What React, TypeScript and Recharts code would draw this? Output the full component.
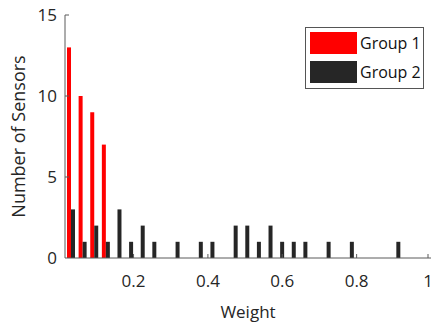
import React from "react";
import { BarChart, Bar, XAxis, YAxis, Legend } from "recharts";

// histogram bin centres (weight), only bins with at least one sensor
const binCenters = [
  0.03125, 0.0625, 0.09375, 0.125, 0.15625, 0.1875, 0.21875, 0.25, 0.3125,
  0.375, 0.40625, 0.46875, 0.5, 0.53125, 0.5625, 0.59375, 0.625, 0.65625,
  0.71875, 0.78125, 0.90625,
];
const group1 = [13, 10, 9, 7, 0, 0, 0, 0, 0, 0, 0, 0, 0, 0, 0, 0, 0, 0, 0, 0, 0];
const group2 = [3, 1, 2, 1, 3, 1, 2, 1, 1, 1, 1, 2, 2, 1, 2, 1, 1, 1, 1, 1, 1];

const xTicks = [0.2, 0.4, 0.6, 0.8, 1];
const yTicks = [0, 5, 10, 15];
const seriesNames = ["Group 1", "Group 2"];
const seriesColors = ["#ff0000", "#262626"];

const data = binCenters.map((w, i) => ({ weight: w, g1: group1[i], g2: group2[i] }));

const axisColor = "#5a5a5a";
const textColor = "#262626";
const font = "'Open Sans', 'Noto Sans', sans-serif";

const XTick = ({ x, y, payload }: any) => (
  <g>
    <line x1={x} x2={x} y1={y} y2={y - 4} stroke={axisColor} />
    <text x={x} y={y + 23} dy="0.355em" textAnchor="middle" fontSize={17} fontFamily={font} fill={textColor}>
      {payload.value}
    </text>
  </g>
);

const TopTick = ({ x, y }: any) => <line x1={x} x2={x} y1={y} y2={y + 4} stroke={axisColor} />;

const YTick = ({ x, y, payload }: any) => (
  <g>
    {payload.value !== 0 && <line x1={x} x2={x + 4} y1={y} y2={y} stroke={axisColor} />}
    <text x={x - 8} y={y} dy="0.355em" textAnchor="end" fontSize={17} fontFamily={font} fill={textColor}>
      {payload.value}
    </text>
  </g>
);

const YLabel = ({ viewBox }: any) => {
  const cy = viewBox.y + viewBox.height / 2;
  return (
    <text x={25} y={cy} transform={`rotate(-90, 25, ${cy})`} textAnchor="middle" fontSize={18} fontFamily={font} fill={textColor}>
      Number of Sensors
    </text>
  );
};

const LegendBox = () => (
  <div
    style={{
      width: 119,
      height: 62,
      boxSizing: "border-box",
      border: "1px solid #555",
      background: "#fff",
      fontFamily: font,
      fontSize: 16,
      color: "#111",
      position: "relative",
    }}
  >
    {seriesNames.map((name, i) => (
      <div key={name} style={{ position: "absolute", left: 4, top: 4 + i * 28.5, display: "flex", alignItems: "center", height: 22 }}>
        <div style={{ width: 47, height: 22, background: seriesColors[i] }} />
        <span style={{ marginLeft: 3, lineHeight: "22px" }}>{name}</span>
      </div>
    ))}
  </div>
);

export default function App() {
  return (
    <div style={{ position: "absolute", left: 0, top: 0, background: "#fff" }}>
      <BarChart
        width={432}
        height={326}
        data={data}
        margin={{ top: 15, right: 1, bottom: 0, left: 0 }}
        barCategoryGap={2}
        barGap={0}
      >
        <XAxis
          dataKey="weight"
          type="number"
          domain={[0.015625, 1]}
          ticks={xTicks}
          height={68}
          tickSize={0}
          tickMargin={0}
          tickLine={false}
          tick={<XTick />}
          axisLine={{ stroke: axisColor }}
          label={{ value: "Weight", position: "insideBottom", offset: 8, fontSize: 17, fontFamily: font, fill: textColor }}
        />
        <XAxis
          xAxisId="top"
          dataKey="weight"
          type="number"
          orientation="top"
          domain={[0.015625, 1]}
          ticks={xTicks}
          height={0}
          tickSize={0}
          tickMargin={0}
          tickLine={false}
          tick={<TopTick />}
          axisLine={{ stroke: axisColor }}
        />
        <YAxis
          type="number"
          domain={[0, 15]}
          ticks={yTicks}
          width={65}
          tickSize={0}
          tickMargin={0}
          tickLine={false}
          tick={<YTick />}
          axisLine={{ stroke: axisColor }}
          label={YLabel}
        />
        <Legend
          layout="vertical"
          verticalAlign="middle"
          align="center"
          content={<LegendBox />}
          wrapperStyle={{ position: "absolute", left: 305, top: 27, width: 119, height: 62 }}
        />
        <Bar dataKey="g1" name={seriesNames[0]} fill={seriesColors[0]} isAnimationActive={false} />
        <Bar dataKey="g2" name={seriesNames[1]} fill={seriesColors[1]} isAnimationActive={false} />
      </BarChart>
    </div>
  );
}
